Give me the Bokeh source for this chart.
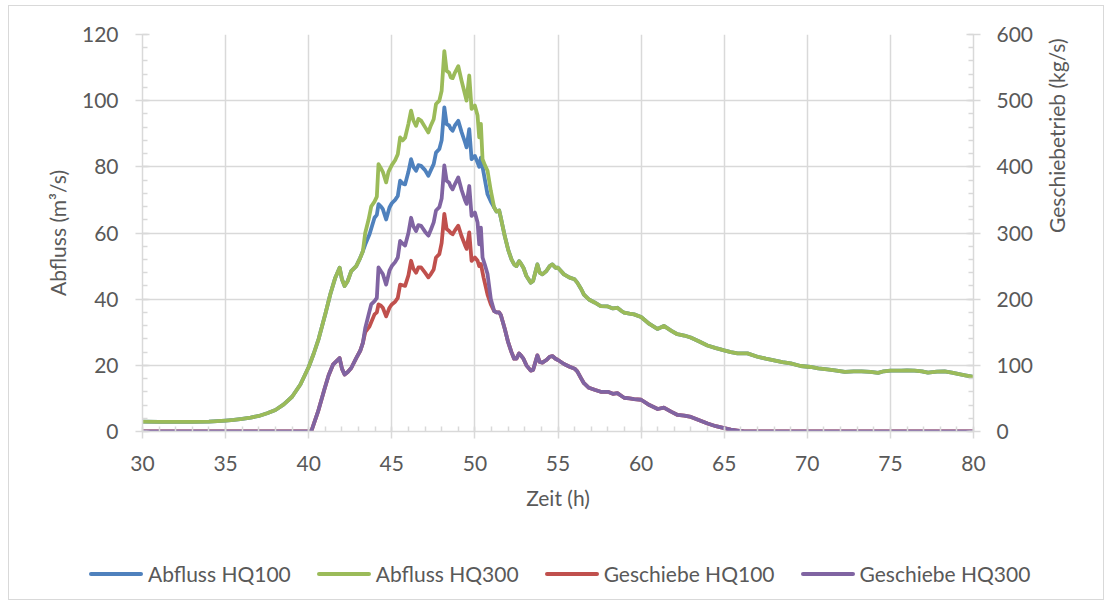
import math
from bokeh.plotting import figure
from bokeh.layouts import column
from bokeh.models import Range1d, LinearAxis, SingleIntervalTicker, Div
from bokeh.embed import file_html
from bokeh.resources import INLINE

# ---------------- data ----------------
# Abfluss HQ300 (m3/s)
t_q300 = [30.0, 31.0, 32.0, 33.0, 34.0, 35.0, 35.5, 36.0, 36.5, 37.0, 37.5, 38.0, 38.5, 39.0, 39.5,
          40.0, 40.3, 40.6, 41.0, 41.3, 41.6, 41.86, 42.0, 42.16, 42.35, 42.56, 42.86, 43.1, 43.26,
          43.4, 43.6, 43.76, 43.96, 44.1, 44.2, 44.35, 44.46, 44.66, 44.8, 45.0, 45.2, 45.36, 45.5,
          45.65, 45.8, 46.0, 46.16, 46.3, 46.46, 46.6, 46.76, 47.0, 47.2, 47.35, 47.52, 47.66, 47.86,
          48.0, 48.16, 48.3, 48.45, 48.55, 48.66, 48.8, 49.0, 49.2, 49.4, 49.5, 49.66, 49.8, 50.0,
          50.16, 50.26, 50.36, 50.46, 50.6, 50.76, 50.96, 51.16, 51.3, 51.46, 51.56, 51.8, 52.0, 52.2,
          52.36, 52.5, 52.66, 52.8, 52.92, 53.1, 53.36, 53.5, 53.76, 53.9, 54.06, 54.3, 54.5, 54.66,
          54.85, 55.0, 55.36, 55.7, 56.0, 56.16, 56.4, 56.56, 56.86, 57.2, 57.57, 58.0, 58.3, 58.57,
          58.8, 58.98, 59.3, 59.58, 60.0, 60.5, 60.98, 61.37, 61.8, 62.18, 62.6, 62.98, 63.5, 63.99,
          64.5, 65.0, 65.4, 65.8, 66.4, 67.0, 67.5, 68.0, 68.5, 69.0, 69.6, 70.2, 70.66, 71.2, 71.66,
          72.26, 72.8, 73.26, 73.8, 74.26, 74.6, 75.0, 75.66, 76.0, 76.46, 76.9, 77.26, 77.8, 78.26,
          78.7, 79.06, 79.5, 80.0]
q_hq300 = [3.0, 2.9, 2.9, 2.9, 3.0, 3.3, 3.5, 3.8, 4.2, 4.7, 5.5, 6.5, 8.2, 10.5, 14.2,
           19.5, 23.5, 28.0, 35.5, 41.5, 46.5, 49.5, 46.0, 44.0, 45.5, 48.5, 50.0, 52.5, 54.5,
           60.0, 64.0, 68.0, 69.5, 71.0, 80.8, 79.5, 78.5, 75.3, 78.5, 80.5, 82.0, 83.8, 88.9,
           88.0, 88.8, 93.0, 97.0, 94.0, 92.4, 94.5, 94.0, 92.0, 90.4, 92.5, 94.4, 99.0, 100.0,
           103.0, 115.0, 109.0, 108.5, 107.0, 106.8, 108.5, 110.4, 106.0, 102.0, 100.0, 107.6, 97.5, 98.5,
           95.5, 88.9, 93.0, 82.3, 80.5, 78.8, 72.7, 67.7, 66.5, 66.8, 64.6, 59.0, 55.0, 52.0,
           50.5, 50.0, 51.5, 50.5, 49.5, 47.0, 45.0, 45.5, 50.5, 48.0, 47.5, 48.5, 50.0, 50.5,
           49.5, 49.5, 47.5, 46.5, 46.0, 45.0, 43.0, 41.4, 39.9, 39.0, 37.9, 37.8, 37.2, 37.4,
           36.5, 35.9, 35.6, 35.4, 34.6, 32.5, 31.0, 31.9, 30.5, 29.4, 29.0, 28.4, 27.2, 26.0,
           25.2, 24.5, 24.0, 23.6, 23.6, 22.6, 22.0, 21.5, 21.0, 20.6, 19.8, 19.5, 19.1, 18.8, 18.5,
           18.0, 18.2, 18.2, 18.0, 17.7, 18.2, 18.4, 18.4, 18.5, 18.4, 18.2, 17.8, 18.1, 18.2,
           17.8, 17.4, 17.0, 16.5]

# Abfluss HQ100 (m3/s)
t_q100 = [30.0, 31.0, 32.0, 33.0, 34.0, 35.0, 35.5, 36.0, 36.5, 37.0, 37.5, 38.0, 38.5, 39.0, 39.5,
          40.0, 40.3, 40.6, 41.0, 41.3, 41.6, 41.86, 42.0, 42.16, 42.35, 42.56, 42.86, 43.1, 43.26,
          43.4, 43.66, 43.96, 44.1, 44.2, 44.35, 44.46, 44.66, 44.86, 45.0, 45.2, 45.36, 45.5, 45.65,
          45.8, 46.0, 46.16, 46.3, 46.46, 46.6, 46.76, 47.0, 47.2, 47.35, 47.52, 47.66, 47.86, 48.0,
          48.16, 48.3, 48.45, 48.55, 48.66, 48.8, 49.0, 49.2, 49.4, 49.5, 49.66, 49.8, 50.0, 50.16,
          50.26, 50.36, 50.52, 50.76, 50.96, 51.16, 51.3, 51.46, 51.56, 51.8, 52.0, 52.2,
          52.36, 52.5, 52.66, 52.8, 52.92, 53.1, 53.36, 53.5, 53.76, 53.9, 54.06, 54.3, 54.5, 54.66,
          54.85, 55.0, 55.36, 55.7, 56.0, 56.16, 56.4, 56.56, 56.86, 57.2, 57.57, 58.0, 58.3, 58.57,
          58.8, 58.98, 59.3, 59.58, 60.0, 60.5, 60.98, 61.37, 61.8, 62.18, 62.6, 62.98, 63.5, 63.99,
          64.5, 65.0, 65.4, 65.8, 66.4, 67.0, 67.5, 68.0, 68.5, 69.0, 69.6, 70.2, 70.66, 71.2, 71.66,
          72.26, 72.8, 73.26, 73.8, 74.26, 74.6, 75.0, 75.66, 76.0, 76.46, 76.9, 77.26, 77.8, 78.26,
          78.7, 79.06, 79.5, 80.0]
q_hq100 = [3.0, 2.9, 2.9, 2.9, 3.0, 3.3, 3.5, 3.8, 4.2, 4.7, 5.5, 6.5, 8.2, 10.5, 14.2,
           19.5, 23.5, 28.0, 35.5, 41.5, 46.5, 49.5, 46.0, 44.0, 45.5, 48.5, 50.0, 52.5, 54.5,
           56.5, 59.6, 64.6, 65.5, 68.7, 68.0, 67.2, 64.1, 67.7, 69.0, 70.0, 71.2, 75.8, 75.0,
           74.7, 78.5, 82.3, 80.0, 78.8, 80.5, 80.3, 79.0, 77.3, 79.0, 80.8, 84.3, 85.4, 88.0,
           98.0, 92.9, 92.5, 91.5, 90.9, 92.5, 93.9, 90.5, 87.5, 85.9, 91.4, 82.3, 83.3, 81.3,
           80.0, 82.8, 78.3, 71.7, 69.5, 67.7, 66.5, 66.8, 64.6, 59.0, 55.0, 52.0,
           50.5, 50.0, 51.5, 50.5, 49.5, 47.0, 45.0, 45.5, 50.5, 48.0, 47.5, 48.5, 50.0, 50.5,
           49.5, 49.5, 47.5, 46.5, 46.0, 45.0, 43.0, 41.4, 39.9, 39.0, 37.9, 37.8, 37.2, 37.4,
           36.5, 35.9, 35.6, 35.4, 34.6, 32.5, 31.0, 31.9, 30.5, 29.4, 29.0, 28.4, 27.2, 26.0,
           25.2, 24.5, 24.0, 23.6, 23.6, 22.6, 22.0, 21.5, 21.0, 20.6, 19.8, 19.5, 19.1, 18.8, 18.5,
           18.0, 18.2, 18.2, 18.0, 17.7, 18.2, 18.4, 18.4, 18.5, 18.4, 18.2, 17.8, 18.1, 18.2,
           17.8, 17.4, 17.0, 16.5]

# Geschiebe HQ300 (kg/s)
t_g300 = [30.0, 40.15, 40.56, 40.96, 41.2, 41.46, 41.86, 42.0, 42.16, 42.35, 42.56, 42.86, 43.1,
          43.26, 43.4, 43.6, 43.76, 43.96, 44.1, 44.2, 44.35, 44.46, 44.66, 44.86, 45.0, 45.2, 45.36,
          45.5, 45.65, 45.8, 46.0, 46.16, 46.3, 46.46, 46.6, 46.76, 47.0, 47.2, 47.35, 47.52, 47.66,
          47.86, 48.0, 48.16, 48.3, 48.45, 48.55, 48.66, 48.8, 49.0, 49.2, 49.4, 49.5, 49.66, 49.8,
          50.0, 50.16, 50.26, 50.36, 50.46, 50.6, 50.76, 50.96, 51.16, 51.3, 51.46, 51.56, 51.8,
          52.0, 52.2, 52.36, 52.5, 52.66, 52.8, 52.92, 53.1, 53.36, 53.5, 53.76, 53.9, 54.06, 54.3,
          54.5, 54.66, 54.85, 55.0, 55.36, 55.7, 56.0, 56.16, 56.4, 56.56, 56.86, 57.2, 57.57, 58.0,
          58.3, 58.57, 58.8, 58.98, 59.3, 59.58, 60.0, 60.5, 61.0, 61.37, 61.8, 62.2, 62.6, 63.0,
          63.5, 64.0, 64.5, 65.0, 65.4, 65.8, 66.2, 70.0, 75.0, 80.0]
g_hq300 = [0, 0, 30, 65, 85, 101, 111, 95, 86, 90, 96, 111, 122,
           134, 156, 176, 192, 197, 202, 248, 242, 238, 222, 243, 250, 256, 263,
           288, 284, 281, 300, 323, 310, 303, 312, 311, 302, 296, 305, 316, 334,
           339, 352, 402, 379, 376, 370, 366, 374, 384, 365, 350, 344, 371, 326,
           331, 316, 283, 308, 263, 252, 238, 200, 182, 180, 180, 176, 155,
           135, 120, 110, 110, 118, 114, 110, 100, 92, 93, 115, 105, 104, 108,
           113, 114, 110, 108, 102, 98, 95, 91, 80, 73, 66, 63, 60, 60,
           57, 58, 54, 51, 50, 49, 48, 40, 34, 36, 30, 25, 24, 22,
           17, 12, 8, 5, 3, 1.5, 0, 0, 0, 0]

# Geschiebe HQ100 (kg/s)
t_g100 = [30.0, 40.15, 40.56, 40.96, 41.2, 41.46, 41.86, 42.0, 42.16, 42.35, 42.56, 42.86, 43.1,
          43.26, 43.4, 43.66, 43.96, 44.1, 44.2, 44.35, 44.46, 44.66, 44.86, 45.0, 45.2, 45.36,
          45.5, 45.65, 45.8, 46.0, 46.16, 46.3, 46.46, 46.6, 46.76, 47.0, 47.2, 47.35, 47.52, 47.66,
          47.86, 48.0, 48.16, 48.3, 48.45, 48.55, 48.66, 48.8, 49.0, 49.2, 49.4, 49.5, 49.66, 49.8,
          50.0, 50.16, 50.26, 50.36, 50.52, 50.76, 50.96, 51.16, 51.3, 51.46, 51.56, 51.8,
          52.0, 52.2, 52.36, 52.5, 52.66, 52.8, 52.92, 53.1, 53.36, 53.5, 53.76, 53.9, 54.06, 54.3,
          54.5, 54.66, 54.85, 55.0, 55.36, 55.7, 56.0, 56.16, 56.4, 56.56, 56.86, 57.2, 57.57, 58.0,
          58.3, 58.57, 58.8, 58.98, 59.3, 59.58, 60.0, 60.5, 61.0, 61.37, 61.8, 62.2, 62.6, 63.0,
          63.5, 64.0, 64.5, 65.0, 65.4, 65.8, 66.2, 70.0, 75.0, 80.0]
g_hq100 = [0, 0, 30, 65, 85, 101, 111, 95, 86, 90, 96, 111, 122,
           134, 150, 159, 177, 180, 192, 190, 187, 174, 187, 192, 196, 202,
           222, 221, 220, 236, 258, 246, 240, 248, 248, 240, 233, 238, 245, 263,
           268, 285, 329, 306, 303, 300, 298, 304, 311, 295, 282, 276, 301, 258,
           263, 258, 250, 253, 233, 207, 192, 182, 180, 180, 176, 155,
           135, 120, 110, 110, 118, 114, 110, 100, 92, 93, 115, 105, 104, 108,
           113, 114, 110, 108, 102, 98, 95, 91, 80, 73, 66, 63, 60, 60,
           57, 58, 54, 51, 50, 49, 48, 40, 34, 36, 30, 25, 24, 22,
           17, 12, 8, 5, 3, 1.5, 0, 0, 0, 0]

series_names = ["Abfluss HQ100", "Abfluss HQ300", "Geschiebe HQ100", "Geschiebe HQ300"]
x_title = "Zeit (h)"
y_title = "Abfluss (m³/s)"
y2_title = "Geschiebetrieb (kg/s)"

# ---------------- styles ----------------
TXT = "#595959"
GRID = "#d9d9d9"
FONT = "Lato"
FS = "21px"
C_BLUE, C_GREEN, C_RED, C_PURPLE = "#4F81BD", "#9BBB59", "#C0504D", "#8064A2"
COLORS = [C_BLUE, C_GREEN, C_RED, C_PURPLE]
LW = 3.8

p = figure(width=1094, height=524, output_backend="svg", toolbar_location=None,
           x_range=Range1d(30, 80), y_range=Range1d(0, 120),
           min_border_left=133, min_border_right=130, min_border_top=28, min_border_bottom=99)
p.outline_line_color = None
p.background_fill_color = "white"
p.border_fill_color = "white"

p.extra_y_ranges = {"g": Range1d(0, 600)}
raxis = LinearAxis(y_range_name="g")
p.add_layout(raxis, "right")

p.xaxis[0].ticker = SingleIntervalTicker(interval=5, num_minor_ticks=5)
p.yaxis[0].ticker = SingleIntervalTicker(interval=20, num_minor_ticks=5)
raxis.ticker = SingleIntervalTicker(interval=100, num_minor_ticks=5)

p.xaxis[0].axis_label = x_title
p.yaxis[0].axis_label = y_title
raxis.axis_label = y2_title
raxis.axis_label_orientation = math.pi / 2

for ax in [p.xaxis[0], p.yaxis[0], raxis]:
    ax.axis_line_color = GRID
    ax.axis_line_width = 1.5
    ax.major_tick_line_color = GRID
    ax.major_tick_line_width = 1.5
    ax.minor_tick_line_color = GRID
    ax.minor_tick_line_width = 1.5
    ax.minor_tick_in = 5
    ax.minor_tick_out = 0
    ax.major_label_text_font = FONT
    ax.major_label_text_font_size = FS
    ax.major_label_text_color = TXT
    ax.axis_label_text_font = FONT
    ax.axis_label_text_font_size = FS
    ax.axis_label_text_color = TXT
    ax.axis_label_text_font_style = "normal"

p.xaxis[0].major_tick_in = 4
p.xaxis[0].major_tick_out = 7
p.xaxis[0].major_label_standoff = 17
p.xaxis[0].axis_label_standoff = 11
p.yaxis[0].major_tick_in = 7
p.yaxis[0].major_tick_out = 7
p.yaxis[0].major_label_standoff = 17
p.yaxis[0].axis_label_standoff = 9
raxis.major_tick_in = 7
raxis.major_tick_out = 7
raxis.major_label_standoff = 16
raxis.axis_label_standoff = 20

p.xgrid.grid_line_color = GRID
p.ygrid.grid_line_color = GRID
p.xgrid.grid_line_width = 1.5
p.ygrid.grid_line_width = 1.5

p.line(t_q100, q_hq100, line_color=C_BLUE, line_width=LW, line_join="round")
p.line(t_q300, q_hq300, line_color=C_GREEN, line_width=LW, line_join="round")
p.line(t_g100, g_hq100, line_color=C_RED, line_width=LW, line_join="round", y_range_name="g")
p.line(t_g300, g_hq300, line_color=C_PURPLE, line_width=LW, line_join="round", y_range_name="g")

# ---------------- legend strip below the chart ----------------
items_html = "".join(
    f'<span style="display:inline-block;width:54px;height:4px;border-radius:2px;'
    f'background:{c};vertical-align:middle;margin-right:5px;"></span>'
    f'<span style="vertical-align:middle;margin-right:{26 if i < len(series_names) - 1 else 0}px;">{name}</span>'
    for i, (name, c) in enumerate(zip(series_names, COLORS)))
legend_div = Div(
    text=(f'<div style="font-family:Lato;font-size:21px;color:{TXT};white-space:nowrap;'
          f'line-height:25px;padding:28px 0 0 80px;margin:0;">{items_html}</div>'),
    width=1094, height=69, margin=0)

layout = column(p, legend_div, spacing=0, margin=(5, 0, 0, 8),
                styles={"border": "1px solid #d9d9d9", "background": "white"})

open("out.html", "w").write(file_html(layout, INLINE))
